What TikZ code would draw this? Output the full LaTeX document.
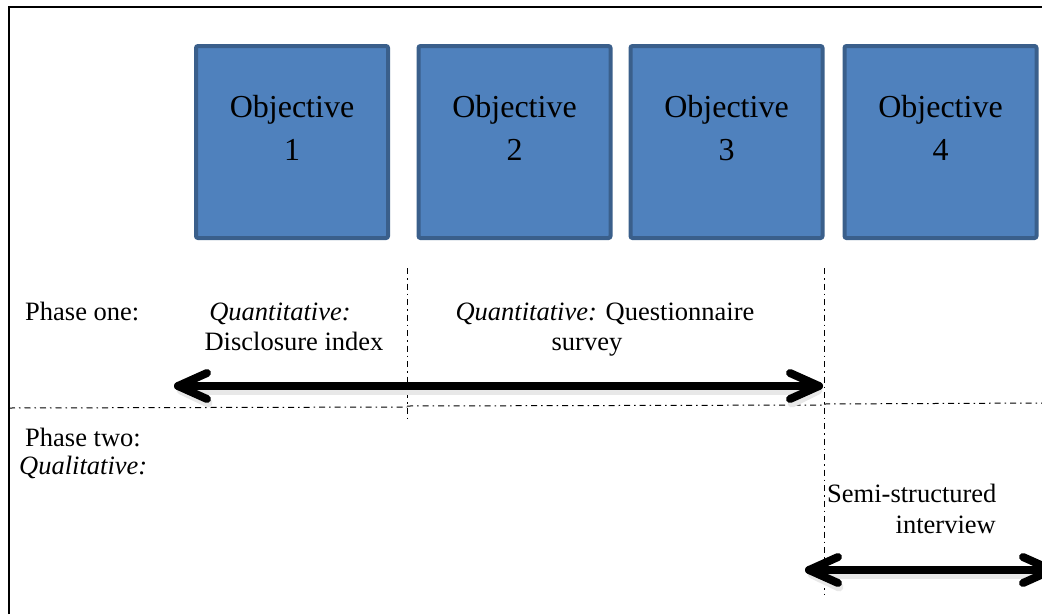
\documentclass[tikz,border=0pt]{standalone}
\usepackage{fontspec}
\setmainfont{Liberation Serif}
\definecolor{objfill}{HTML}{4F81BD}
\definecolor{objdraw}{HTML}{3A5F8B}
\tikzset{
  objbox/.style={draw=objdraw, fill=objfill, line width=4pt, rounded corners=2pt, minimum width=192pt, minimum height=192pt, inner sep=0pt},
  objtext/.style={font=\fontsize{32}{43}\selectfont, inner sep=0pt, anchor=base},
  phasetext/.style={font=\fontsize{26.5}{30}\selectfont, inner sep=0pt},
  dashdot/.style={line width=1pt, dash pattern=on 6pt off 4pt on 1.5pt off 4pt},
  bigline/.style={line width=8pt, line cap=round, line join=round},
  shadowline/.style={line width=9pt, draw=black!9, line cap=round, line join=round}
}
\begin{document}
\begin{tikzpicture}[x=1pt, y=-1pt]
\useasboundingbox (0,0) rectangle (1042,614);
% frame
\draw[line width=2pt] (9,614) -- (9,7) -- (1042,7);
% objective boxes
\node[objbox] (o1) at (292,142) {};
\node[objbox] (o2) at (514.5,142) {};
\node[objbox] (o3) at (726.5,142) {};
\node[objbox] (o4) at (940.5,142) {};
\node[objtext] (t1a) at (292,117) {Objective};
\node[objtext] (t1b) at (292,160) {1};
\node[objtext] (t2a) at (514.5,117) {Objective};
\node[objtext] (t2b) at (514.5,160) {2};
\node[objtext] (t3a) at (726.5,117) {Objective};
\node[objtext] (t3b) at (726.5,160) {3};
\node[objtext] (t4a) at (940.5,117) {Objective};
\node[objtext] (t4b) at (940.5,160) {4};
% coordinates for lines
\coordinate (v1t) at (407,268);
\coordinate (v1b) at (407,418);
\coordinate (v2t) at (824,268);
\coordinate (v2b) at (824,595);
\coordinate (h1a) at (9,408);
\coordinate (h1b) at (407,407);
\coordinate (h2a) at (407,406);
\coordinate (h2b) at (824,405);
\coordinate (h3a) at (824,404);
\coordinate (h3b) at (1042,403);
\draw[dashdot] (v1t) -- (v1b);
\draw[dashdot] (v2t) -- (v2b);
\draw[dashdot] (h1a) -- (h1b);
\draw[dashdot] (h2a) -- (h2b);
\draw[dashdot] (h3a) -- (h3b);
% arrows
\coordinate (a1l) at (178,386);
\coordinate (a1r) at (819,386);
\coordinate (a2l) at (809,570);
\coordinate (a2r) at (1052,570);
% shadows
\draw[shadowline] ([shift={(4,4)}]a1l) -- ([shift={(-2,4)}]a1r);
\draw[shadowline] ([shift={(30,17)}]a1l) -- ([shift={(3,4)}]a1l);
\draw[shadowline] ([shift={(-27,17)}]a1r) -- ([shift={(-1,4)}]a1r);
\draw[shadowline] ([shift={(4,4)}]a2l) -- ([shift={(-2,4)}]a2r);
\draw[shadowline] ([shift={(30,17)}]a2l) -- ([shift={(3,4)}]a2l);
% main arrows
\draw[bigline] (a1l) -- (a1r);
\draw[bigline] ([shift={(29,-13)}]a1l) -- (a1l) -- ([shift={(29,13)}]a1l);
\draw[bigline] ([shift={(-29,-13)}]a1r) -- (a1r) -- ([shift={(-29,13)}]a1r);
\draw[bigline] (a2l) -- (a2r);
\draw[bigline] ([shift={(29,-13)}]a2l) -- (a2l) -- ([shift={(29,13)}]a2l);
\draw[bigline] ([shift={(-29,-13)}]a2r) -- (a2r) -- ([shift={(-29,13)}]a2r);
% texts
\node[phasetext, anchor=base west] (p1) at (25,320) {Phase one:};
\node[phasetext, anchor=base] (q1a) at (280,320) {\textit{Quantitative:}};
\node[phasetext, anchor=base] (q1b) at (294,350) {Disclosure index};
\node[phasetext, anchor=base] (q2a) at (605,320) {\textit{Quantitative:} Questionnaire};
\node[phasetext, anchor=base] (q2b) at (587,350) {survey};
\node[phasetext, anchor=base west] (p2a) at (25,446) {Phase two:};
\node[phasetext, anchor=base west] (p2b) at (19,474) {\textit{Qualitative:}};
\node[phasetext, anchor=base west] (s1) at (827,502) {Semi-structured};
\node[phasetext, anchor=base east] (s2) at (996,533) {interview};
\end{tikzpicture}
\end{document}
